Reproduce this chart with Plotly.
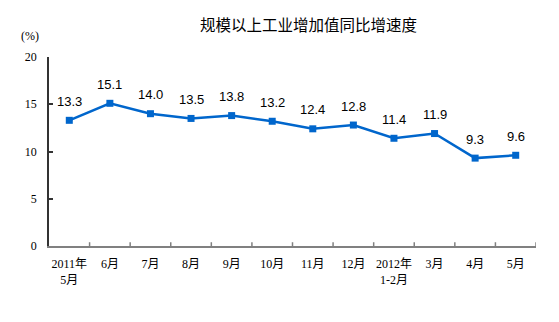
import plotly.graph_objects as go

# Monthly year-on-year growth of industrial value added (%)
months = ["2011年<br>5月", "6月", "7月", "8月", "9月", "10月", "11月", "12月",
          "2012年<br>1-2月", "3月", "4月", "5月"]
growth = [13.3, 15.1, 14.0, 13.5, 13.8, 13.2, 12.4, 12.8, 11.4, 11.9, 9.3, 9.6]
y_ticks = [0, 5, 10, 15, 20]

line_color = "#0066CC"
label_font = dict(family="Liberation Sans, Arial, sans-serif", size=13, color="#000000")
tick_font = dict(family="Liberation Serif, Noto Sans CJK SC, serif", size=12, color="#000000")

fig = go.Figure()
fig.add_trace(go.Scatter(
    x=list(range(len(months))),
    y=growth,
    mode="lines+markers",
    line=dict(color=line_color, width=2.5),
    marker=dict(symbol="square", size=7, color=line_color),
    hoverinfo="skip",
    showlegend=False,
))

# value labels above each point
for i, v in enumerate(growth):
    fig.add_annotation(x=i, y=v, text=f"{v:.1f}", showarrow=False,
                       yshift=19, font=label_font)

fig.update_layout(
    width=559, height=322,
    margin=dict(l=49, r=23, t=57, b=76),
    paper_bgcolor="white", plot_bgcolor="white",
    title=dict(text="规模以上工业增加值同比增速度", x=0.552, xanchor="center",
               y=0.922, yanchor="middle",
               font=dict(family="Noto Sans CJK SC, sans-serif", size=15.5, color="#000000")),
)

fig.update_xaxes(
    range=[-0.5, len(months) - 0.5],
    tickmode="array",
    tickvals=list(range(len(months))),
    ticktext=months,
    showgrid=False, zeroline=False,
    showline=True, linecolor="#808080", linewidth=1.5,
    ticks="", tickfont=tick_font, ticklabelstandoff=6,
)
# tick marks on category boundaries
for b in range(1, len(months) + 1):
    fig.add_shape(type="line", xref="x", yref="y", x0=b - 0.5, x1=b - 0.5,
                  y0=0, y1=0.4, line=dict(color="#808080", width=1.5))

fig.update_yaxes(
    range=[0, 20],
    tickmode="array", tickvals=y_ticks,
    showgrid=False, zeroline=False,
    showline=True, linecolor="#333333", linewidth=1.5,
    ticks="inside", ticklen=4, tickcolor="#333333", tickwidth=1.5,
    tickfont=tick_font, ticklabelstandoff=8,
)

fig.add_annotation(xref="paper", yref="paper", x=-0.017, y=1.11,
                   text="(%)", showarrow=False, xanchor="right", yanchor="middle",
                   font=dict(family="Liberation Serif, serif", size=12, color="#000000"))

fig.write_html("out.html")
